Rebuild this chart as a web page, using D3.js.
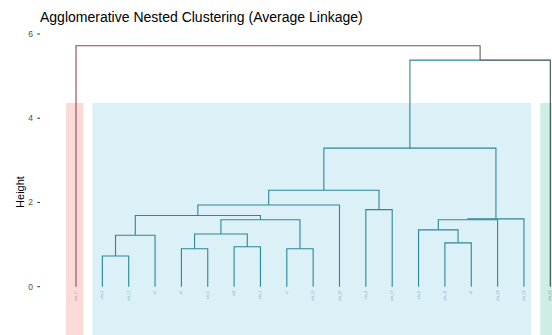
<!DOCTYPE html>
<html>
<head>
<meta charset="utf-8">
<script src="https://cdn.jsdelivr.net/npm/d3@7"></script>
<style>
  body { margin: 0; background: #fff; }
  text { font-family: "Liberation Sans", Arial, sans-serif; }
</style>
</head>
<body>
<div id="chart"></div>
<script>
// chart size
var svgWidth = 552;
var svgHeight = 335;

// leaves in dendrogram order (labels are unreadable in the picture, so short ids)
var leafLabels = ["obs_17", "obs_3", "obs_12", "o9", "o2", "obs_5", "o14", "obs_1",
                  "o7", "obs_16", "obs_10", "obs_4", "obs_19", "obs_8", "obs_11",
                  "o6", "obs_18", "obs_13", "obs_15"];
// cluster of each leaf (k = 3)
var leafCluster = [0, 1, 1, 1, 1, 1, 1, 1, 1, 1, 1, 1, 1, 1, 1, 1, 1, 1, 2];

// merges, hclust style: negative = leaf (1-based), positive = earlier merge (1-based)
var merges = [
  [-2, -3], [1, -4], [-5, -6], [-7, -8], [3, 4], [-9, -10], [5, 6], [2, 7],
  [8, -11], [-12, -13], [9, 10], [-15, -16], [-14, 12], [13, -17], [14, -18],
  [11, 15], [16, -19], [-1, 17]
];
var mergeHeights = [0.73, 1.22, 0.90, 0.95, 1.25, 0.90, 1.59, 1.69,
                    1.94, 1.83, 2.29, 1.04, 1.35, 1.59, 1.61, 3.29, 5.38, 5.72];

var yTicks = [0, 2, 4, 6];
var rectTop = 4.36;

var clusterLine = ["#94454f", "#2b8797", "#2e4f4a"];
var clusterFill = ["#fadbd8", "#dcf0f7", "#cdede5"];
var otherLine = "#5a5a5a";

var svg = d3.select("#chart").append("svg")
    .attr("width", svgWidth)
    .attr("height", svgHeight);

var xScale = d3.scaleLinear().domain([0, 18]).range([76, 550.3]);
var yScale = d3.scaleLinear().domain([0, 6]).range([286.7, 34]);

// build node list: leaves first then merges
var nodes = [];
leafLabels.forEach(function(l, i) {
  nodes.push({x: i, h: 0, cl: leafCluster[i]});
});
function nodeOf(ref) {
  return ref < 0 ? nodes[-ref - 1] : nodes[leafLabels.length + ref - 1];
}
merges.forEach(function(m, i) {
  var a = nodeOf(m[0]), b = nodeOf(m[1]);
  var n = {x: (a.x + b.x) / 2, h: mergeHeights[i], cl: a.cl === b.cl ? a.cl : -1};
  a.parent = n; b.parent = n;
  nodes.push(n);
});

// cluster rectangles
var clusters = d3.range(3).map(function(c) {
  var idx = leafCluster.map(function(v, i) { return v === c ? i : -1; }).filter(function(i) { return i >= 0; });
  return {c: c, first: d3.min(idx), last: d3.max(idx)};
});
svg.append("g").selectAll("rect")
  .data(clusters)
  .enter()
  .append("rect")
  .attr("x", d => xScale(d.first - 0.38))
  .attr("width", d => xScale(d.last + 0.28) - xScale(d.first - 0.38))
  .attr("y", yScale(rectTop))
  .attr("height", yScale(-1.5) - yScale(rectTop))
  .attr("fill", d => clusterFill[d.c]);

// edges: from each node up to its parent
var edges = nodes.filter(d => d.parent);
var edgeGroup = svg.append("g").attr("fill", "none").attr("stroke-width", 1.1);
edgeGroup.selectAll("path")
  .data(edges)
  .enter()
  .append("path")
  .attr("d", function(d) {
    return "M" + xScale(d.x) + "," + yScale(d.h) +
           "V" + yScale(d.parent.h) + "H" + xScale(d.parent.x);
  })
  .attr("stroke", d => d.cl >= 0 ? clusterLine[d.cl] : otherLine);

// leaf labels, tiny and rotated
svg.append("g").selectAll("text")
  .data(leafLabels)
  .enter()
  .append("text")
  .attr("transform", (d, i) => `translate(${xScale(i) + 1}, ${yScale(0) + 4})rotate(-90)`)
  .attr("text-anchor", "end")
  .attr("font-size", "3px")
  .attr("fill", (d, i) => clusterLine[leafCluster[i]])
  .attr("opacity", 0.65)
  .text(d => d);

// y axis
var yAxis = svg.append("g").attr("transform", "translate(40,0)");
yAxis.selectAll("line")
  .data(yTicks)
  .enter()
  .append("line")
  .attr("x1", -2.7).attr("x2", 0)
  .attr("y1", d => yScale(d)).attr("y2", d => yScale(d))
  .attr("stroke", "#333");
yAxis.selectAll("text")
  .data(yTicks)
  .enter()
  .append("text")
  .attr("x", -7)
  .attr("y", d => yScale(d) + 3)
  .attr("text-anchor", "end")
  .attr("font-size", "8.5px")
  .attr("fill", "#4d4d4d")
  .text(d => d);

svg.append("text")
  .attr("transform", `translate(24, ${192})rotate(-90)`)
  .attr("text-anchor", "middle")
  .attr("font-size", "11px")
  .attr("fill", "#000")
  .text("Height");

// title
svg.append("text")
  .attr("x", 40)
  .attr("y", 22)
  .attr("font-size", "14px")
  .attr("fill", "#000")
  .text("Agglomerative Nested Clustering (Average Linkage)");
</script>
</body>
</html>
